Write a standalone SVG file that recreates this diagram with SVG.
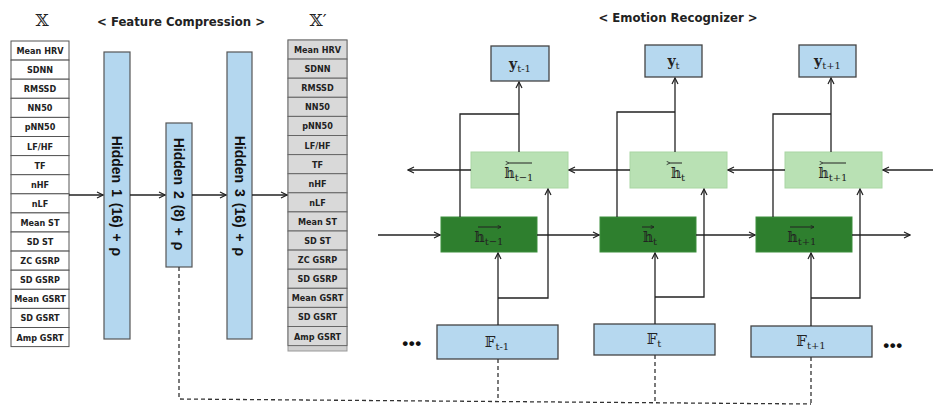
<svg xmlns="http://www.w3.org/2000/svg" width="933" height="407" viewBox="0 0 933 407">
<defs>
<marker id="arr" viewBox="0 0 8 8" refX="7" refY="4" markerWidth="8" markerHeight="8" markerUnits="userSpaceOnUse" orient="auto">
<path d="M1,1 L7,4 L1,7" fill="none" stroke="#222" stroke-width="1.2"/>
</marker>
<marker id="sa" viewBox="0 0 6 6" refX="5" refY="3" markerWidth="5" markerHeight="5" markerUnits="userSpaceOnUse" orient="auto">
<path d="M1,1 L5,3 L1,5" fill="none" stroke="#222" stroke-width="1"/>
</marker>
</defs>
<style>
.cell{fill:#fff;stroke:#555;stroke-width:1}
.gcell{fill:#d9d9d9;stroke:#666;stroke-width:1}
.lbl{font-family:"DejaVu Sans Condensed","DejaVu Sans",sans-serif;font-weight:bold;font-size:9px;fill:#222;text-anchor:middle}
.title{font-family:"DejaVu Sans Condensed","DejaVu Sans",sans-serif;font-weight:bold;font-size:13px;fill:#222;text-anchor:middle}
.math{font-family:"DejaVu Serif","DejaVu Sans",serif;fill:#222;text-anchor:middle}
.hid{fill:#b4d7ef;stroke:#555;stroke-width:1.2}
.hidt{font-family:"Liberation Sans",Arial,sans-serif;font-weight:bold;font-size:14px;fill:#111;text-anchor:middle;word-spacing:2px}
.blue{fill:#b6d8ef;stroke:#444;stroke-width:1.3}
.lg{fill:#b9e1b4;stroke:#a9d6a3;stroke-width:1}
.dg{fill:#2e7f2e;stroke:#3d8f3d;stroke-width:1}
.c{fill:none;stroke:#222;stroke-width:1.3}
.d{fill:none;stroke:#333;stroke-width:1.3;stroke-dasharray:4,3}
.ov{stroke:#222;stroke-width:1}
.dot{font-family:"Liberation Sans",Arial,sans-serif;font-size:17px;font-weight:bold;fill:#111;text-anchor:middle;letter-spacing:0.5px}
</style>

<text class="math" x="42" y="26" font-size="17">𝕏</text>
<text class="title" x="181" y="26">&lt; Feature Compression &gt;</text>
<text class="math" x="318" y="26" font-size="17">𝕏′</text>
<text class="title" x="678" y="22">&lt; Emotion Recognizer &gt;</text>

<g id="X">
<rect class="cell" x="11" y="41" width="58" height="19.1"/><text class="lbl" x="40" y="54">Mean HRV</text>
<rect class="cell" x="11" y="60.1" width="58" height="19.1"/><text class="lbl" x="40" y="73.1">SDNN</text>
<rect class="cell" x="11" y="79.2" width="58" height="19.1"/><text class="lbl" x="40" y="92.2">RMSSD</text>
<rect class="cell" x="11" y="98.3" width="58" height="19.1"/><text class="lbl" x="40" y="111.3">NN50</text>
<rect class="cell" x="11" y="117.4" width="58" height="19.1"/><text class="lbl" x="40" y="130.4">pNN50</text>
<rect class="cell" x="11" y="136.5" width="58" height="19.1"/><text class="lbl" x="40" y="149.5">LF/HF</text>
<rect class="cell" x="11" y="155.6" width="58" height="19.1"/><text class="lbl" x="40" y="168.6">TF</text>
<rect class="cell" x="11" y="174.7" width="58" height="19.1"/><text class="lbl" x="40" y="187.7">nHF</text>
<rect class="cell" x="11" y="193.8" width="58" height="19.1"/><text class="lbl" x="40" y="206.8">nLF</text>
<rect class="cell" x="11" y="212.9" width="58" height="19.1"/><text class="lbl" x="40" y="225.9">Mean ST</text>
<rect class="cell" x="11" y="232" width="58" height="19.1"/><text class="lbl" x="40" y="245">SD ST</text>
<rect class="cell" x="11" y="251.1" width="58" height="19.1"/><text class="lbl" x="40" y="264.1">ZC GSRP</text>
<rect class="cell" x="11" y="270.2" width="58" height="19.1"/><text class="lbl" x="40" y="283.2">SD GSRP</text>
<rect class="cell" x="11" y="289.3" width="58" height="19.1"/><text class="lbl" x="40" y="302.3">Mean GSRT</text>
<rect class="cell" x="11" y="308.4" width="58" height="19.1"/><text class="lbl" x="40" y="321.4">SD GSRT</text>
<rect class="cell" x="11" y="327.5" width="58" height="19.1"/><text class="lbl" x="40" y="340.5">Amp GSRT</text>
</g>

<g id="Xp">
<rect x="288" y="40" width="59" height="311" fill="#d0d0d0" stroke="#999" stroke-width="1"/>
<rect class="gcell" x="288" y="40" width="59" height="19.1"/><text class="lbl" x="317.5" y="53">Mean HRV</text>
<rect class="gcell" x="288" y="59.1" width="59" height="19.1"/><text class="lbl" x="317.5" y="72.1">SDNN</text>
<rect class="gcell" x="288" y="78.2" width="59" height="19.1"/><text class="lbl" x="317.5" y="91.2">RMSSD</text>
<rect class="gcell" x="288" y="97.3" width="59" height="19.1"/><text class="lbl" x="317.5" y="110.3">NN50</text>
<rect class="gcell" x="288" y="116.4" width="59" height="19.1"/><text class="lbl" x="317.5" y="129.4">pNN50</text>
<rect class="gcell" x="288" y="135.5" width="59" height="19.1"/><text class="lbl" x="317.5" y="148.5">LF/HF</text>
<rect class="gcell" x="288" y="154.6" width="59" height="19.1"/><text class="lbl" x="317.5" y="167.6">TF</text>
<rect class="gcell" x="288" y="173.7" width="59" height="19.1"/><text class="lbl" x="317.5" y="186.7">nHF</text>
<rect class="gcell" x="288" y="192.8" width="59" height="19.1"/><text class="lbl" x="317.5" y="205.8">nLF</text>
<rect class="gcell" x="288" y="211.9" width="59" height="19.1"/><text class="lbl" x="317.5" y="224.9">Mean ST</text>
<rect class="gcell" x="288" y="231" width="59" height="19.1"/><text class="lbl" x="317.5" y="244">SD ST</text>
<rect class="gcell" x="288" y="250.1" width="59" height="19.1"/><text class="lbl" x="317.5" y="263.1">ZC GSRP</text>
<rect class="gcell" x="288" y="269.2" width="59" height="19.1"/><text class="lbl" x="317.5" y="282.2">SD GSRP</text>
<rect class="gcell" x="288" y="288.3" width="59" height="19.1"/><text class="lbl" x="317.5" y="301.3">Mean GSRT</text>
<rect class="gcell" x="288" y="307.4" width="59" height="19.1"/><text class="lbl" x="317.5" y="320.4">SD GSRT</text>
<rect class="gcell" x="288" y="326.5" width="59" height="19.1"/><text class="lbl" x="317.5" y="339.5">Amp GSRT</text>
</g>

<g id="hidden1">
<rect class="hid" x="104" y="52" width="26" height="287"/>
<text class="hidt" transform="translate(117,196) rotate(90)" dy="5">Hidden 1 (16) + ρ</text>
</g>
<g id="hidden2">
<rect class="hid" x="166" y="123" width="26" height="144"/>
<text class="hidt" transform="translate(179,194) rotate(90)" dy="5">Hidden 2 (8) + ρ</text>
</g>
<g id="hidden3">
<rect class="hid" x="227" y="52" width="25" height="287"/>
<text class="hidt" transform="translate(239.5,196) rotate(90)" dy="5">Hidden 3 (16) + ρ</text>
</g>

<g id="y_tm1">
<rect class="blue" x="491" y="46" width="58" height="35"/>
<text class="math" x="520" y="69" font-size="14" font-weight="bold">y<tspan font-size="10" font-weight="normal" dy="3">t-1</tspan></text>
</g>
<g id="y_t">
<rect class="blue" x="645" y="45" width="57" height="32"/>
<text class="math" x="673.5" y="66" font-size="14" font-weight="bold">y<tspan font-size="10" font-weight="normal" dy="3">t</tspan></text>
</g>
<g id="y_tp1">
<rect class="blue" x="799" y="45" width="57" height="32"/>
<text class="math" x="827.5" y="66" font-size="14" font-weight="bold">y<tspan font-size="10" font-weight="normal" dy="3">t+1</tspan></text>
</g>

<g id="hb_tm1">
<rect class="lg" x="471" y="152" width="97" height="36"/>
<line class="ov" x1="509" y1="163" x2="532" y2="163" marker-start="url(#sa)"/>
<text class="math" x="519" y="178" font-size="14">𝕙<tspan font-size="10" dy="3">t−1</tspan></text>
</g>
<g id="hb_t">
<rect class="lg" x="630" y="152" width="97" height="36"/>
<line class="ov" x1="670" y1="163" x2="682" y2="163" marker-start="url(#sa)"/>
<text class="math" x="678" y="178" font-size="14">𝕙<tspan font-size="10" dy="3">t</tspan></text>
</g>
<g id="hb_tp1">
<rect class="lg" x="785" y="152" width="97" height="36"/>
<line class="ov" x1="823" y1="163" x2="846" y2="163" marker-start="url(#sa)"/>
<text class="math" x="833" y="178" font-size="14">𝕙<tspan font-size="10" dy="3">t+1</tspan></text>
</g>

<g id="hf_tm1">
<rect class="dg" x="441" y="217" width="96" height="35"/>
<line class="ov" x1="478" y1="227" x2="501" y2="227" marker-end="url(#sa)"/>
<text class="math" x="489" y="242" font-size="14">𝕙<tspan font-size="10" dy="3">t−1</tspan></text>
</g>
<g id="hf_t">
<rect class="dg" x="600" y="217" width="96" height="35"/>
<line class="ov" x1="642" y1="227" x2="654" y2="227" marker-end="url(#sa)"/>
<text class="math" x="650" y="242" font-size="14">𝕙<tspan font-size="10" dy="3">t</tspan></text>
</g>
<g id="hf_tp1">
<rect class="dg" x="756" y="217" width="96" height="35"/>
<line class="ov" x1="790" y1="227" x2="814" y2="227" marker-end="url(#sa)"/>
<text class="math" x="802" y="242" font-size="14">𝕙<tspan font-size="10" dy="3">t+1</tspan></text>
</g>

<g id="F_tm1">
<rect class="blue" x="437" y="325" width="121" height="34"/>
<text class="math" x="497" y="347" font-size="15">𝔽<tspan font-size="10" dy="3">t-1</tspan></text>
</g>
<g id="F_t">
<rect class="blue" x="594" y="324" width="121" height="31"/>
<text class="math" x="654" y="344" font-size="15">𝔽<tspan font-size="10" dy="3">t</tspan></text>
</g>
<g id="F_tp1">
<rect class="blue" x="751" y="326" width="121" height="31"/>
<text class="math" x="811" y="346" font-size="15">𝔽<tspan font-size="10" dy="3">t+1</tspan></text>
</g>

<g id="dots">
<text class="dot" x="412" y="349">•••</text>
<text class="dot" x="893" y="351">•••</text>
</g>

<g id="connectors">
<line class="c" x1="69" y1="195" x2="103" y2="195" marker-end="url(#arr)"/>
<line class="c" x1="130" y1="195" x2="165" y2="195" marker-end="url(#arr)"/>
<line class="c" x1="192" y1="195" x2="226" y2="195" marker-end="url(#arr)"/>
<line class="c" x1="252" y1="195" x2="287" y2="195" marker-end="url(#arr)"/>

<polyline class="d" points="179,267 179,399 811,404"/>
<line class="d" x1="498" y1="359" x2="498" y2="401.5"/>
<line class="d" x1="655" y1="355" x2="655" y2="402.8"/>
<line class="d" x1="811" y1="357" x2="811" y2="404"/>

<line class="c" x1="378" y1="235" x2="440" y2="235" marker-end="url(#arr)"/>
<line class="c" x1="537" y1="235" x2="599" y2="235" marker-end="url(#arr)"/>
<line class="c" x1="696" y1="235" x2="755" y2="235" marker-end="url(#arr)"/>
<line class="c" x1="852" y1="235" x2="910" y2="235" marker-end="url(#arr)"/>

<line class="c" x1="471" y1="170" x2="408" y2="170" marker-end="url(#arr)"/>
<line class="c" x1="630" y1="170" x2="569" y2="170" marker-end="url(#arr)"/>
<line class="c" x1="785" y1="170" x2="728" y2="170" marker-end="url(#arr)"/>
<line class="c" x1="933" y1="170" x2="883" y2="170" marker-end="url(#arr)"/>

<line class="c" x1="519" y1="152" x2="519" y2="82" marker-end="url(#arr)"/>
<polyline class="c" points="460,217 460,114 519,114"/>
<line class="c" x1="675" y1="152" x2="675" y2="78" marker-end="url(#arr)"/>
<polyline class="c" points="617,217 617,112 675,112"/>
<line class="c" x1="831" y1="152" x2="831" y2="78" marker-end="url(#arr)"/>
<polyline class="c" points="773,217 773,114 831,114"/>

<line class="c" x1="498" y1="325" x2="498" y2="253" marker-end="url(#arr)"/>
<polyline class="c" points="498,298 548,298 548,189" marker-end="url(#arr)"/>
<line class="c" x1="655" y1="324" x2="655" y2="253" marker-end="url(#arr)"/>
<polyline class="c" points="655,297 704,297 704,189" marker-end="url(#arr)"/>
<line class="c" x1="811" y1="326" x2="811" y2="253" marker-end="url(#arr)"/>
<polyline class="c" points="811,298 860,298 860,189" marker-end="url(#arr)"/>
</g>
</svg>
